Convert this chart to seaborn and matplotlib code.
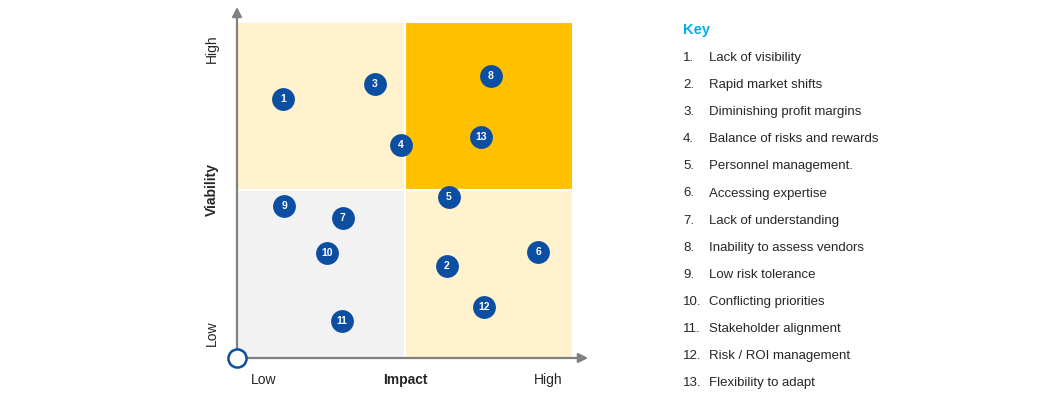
import matplotlib
matplotlib.use("Agg")
import matplotlib.pyplot as plt
from matplotlib.patches import Rectangle
import seaborn as sns
import pandas as pd

# ---- data ----
ids = [1, 2, 3, 4, 5, 6, 7, 8, 9, 10, 11, 12, 13]
impact = [1.37, 6.25, 4.11, 4.88, 6.31, 8.96, 3.15, 7.56, 1.40, 2.68, 3.13, 7.35, 7.26]
viability = [7.71, 2.74, 8.15, 6.34, 4.79, 3.15, 4.17, 8.39, 4.52, 3.13, 1.10, 1.52, 6.58]
key_labels = [
    "Lack of visibility",
    "Rapid market shifts",
    "Diminishing profit margins",
    "Balance of risks and rewards",
    "Personnel management.",
    "Accessing expertise",
    "Lack of understanding",
    "Inability to assess vendors",
    "Low risk tolerance",
    "Conflicting priorities",
    "Stakeholder alignment",
    "Risk / ROI management",
    "Flexibility to adapt",
]
x_ticklabels = ["Low", "High"]
y_ticklabels = ["Low", "High"]
x_title = "Impact"
y_title = "Viability"
key_title = "Key"

sns.set_theme(style="white")
plt.rcParams["font.family"] = ["Liberation Sans", "DejaVu Sans"]

W, H = 1050, 403
fig = plt.figure(figsize=(W / 100, H / 100), dpi=100)
# axes placed at pixel box x 237..573, y 22..358
ax = fig.add_axes([237 / W, 1 - 358 / H, 336 / W, 336 / H])
ax.set_xlim(0, 10)
ax.set_ylim(0, 10)
ax.axis("off")

# quadrants
quads = [
    (0, 5, "#FFF2CC"),
    (5, 5, "#FFC000"),
    (0, 0, "#F2F2F2"),
    (5, 0, "#FFF2CC"),
]
for qx, qy, c in quads:
    ax.add_patch(Rectangle((qx, qy), 5, 5, facecolor=c, edgecolor="white", lw=1.5, zorder=0))

# axes arrows
arrow_kw = dict(arrowstyle="-|>", color="#808080", lw=1.6, mutation_scale=14, shrinkA=0, shrinkB=0)
ax.annotate("", xy=(10.45, 0), xytext=(0, 0), arrowprops=arrow_kw, annotation_clip=False, zorder=2)
ax.annotate("", xy=(0, 10.45), xytext=(0, 0), arrowprops=arrow_kw, annotation_clip=False, zorder=2)
ax.scatter([0], [0], s=170, facecolor="white", edgecolor="#0B4EA2", linewidth=1.8, zorder=5, clip_on=False)

df = pd.DataFrame({"id": ids, "impact": impact, "viability": viability})
sns.scatterplot(data=df, x="impact", y="viability", ax=ax, s=270, color="#0B4EA2",
                edgecolor="#0B4EA2", linewidth=0, zorder=4, legend=False, clip_on=False)
for i, xv, yv in zip(df["id"], df["impact"], df["viability"]):
    ax.text(xv, yv, str(i), color="white", fontsize=7.5, fontweight="bold",
            ha="center", va="center", zorder=6)

# axis labels
lab_kw = dict(fontsize=10, color="#262626")
ax.text(0.8, -0.65, x_ticklabels[0], ha="center", va="center", **lab_kw)
ax.text(9.27, -0.65, x_ticklabels[1], ha="center", va="center", **lab_kw)
ax.text(5.0, -0.65, x_title, ha="center", va="center", fontweight="bold", **lab_kw)
ax.text(-0.74, 0.75, y_ticklabels[0], ha="center", va="center", rotation=90, **lab_kw)
ax.text(-0.74, 9.2, y_ticklabels[1], ha="center", va="center", rotation=90, **lab_kw)
ax.text(-0.74, 5.0, y_title, ha="center", va="center", rotation=90, fontweight="bold", **lab_kw)

# key
fig.text(683 / W, 1 - 34 / H, key_title, color="#00B0F0", fontsize=10.5, fontweight="bold",
         ha="left", va="baseline")
for k, lab in enumerate(key_labels):
    yy = 1 - (61 + 27.1 * k) / H
    fig.text(683 / W, yy, f"{k + 1}.", fontsize=9.5, color="#262626", ha="left", va="baseline")
    fig.text(709 / W, yy, lab, fontsize=9.5, color="#262626", ha="left", va="baseline")

fig.savefig("out.png", dpi=100, facecolor="white")
